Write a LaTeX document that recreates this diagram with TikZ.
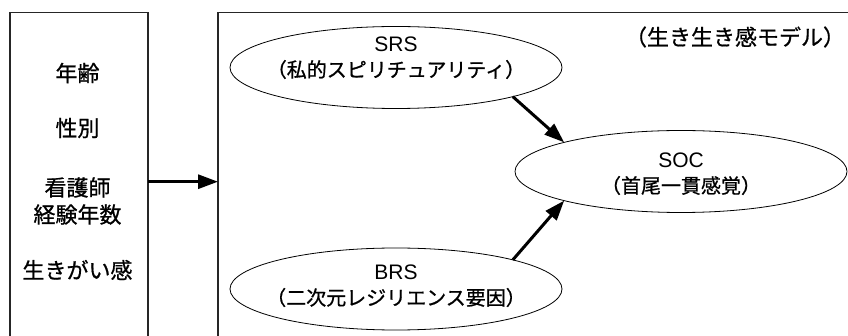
\documentclass[tikz,border=0pt]{standalone}
\usepackage{fontspec}
\setmainfont{Noto Sans CJK JP}[RawFeature={embolden=0.8}]
\newfontfamily\latinfont{Liberation Sans}
\usetikzlibrary{arrows.meta,shapes.geometric}
\tikzset{
  boxline/.style={draw=black!85, line width=1.3pt, inner sep=0pt, outer sep=0pt, anchor=north west},
  oval/.style={ellipse, draw=black, line width=0.8pt, inner sep=0pt, outer sep=0pt, minimum width=332pt, minimum height=82pt},
  ovaltext/.style={align=center, inner sep=0pt, font=\fontsize{20}{25.5}\selectfont},
  sidetext/.style={align=center, inner sep=0pt, font=\fontsize{22}{27}\selectfont},
  bigarrow/.style={line width=3pt, -{Triangle[length=20pt, width=14pt]}, shorten >=0pt}
}
\begin{document}
\begin{tikzpicture}[x=1pt, y=-1pt]
\useasboundingbox (0,0) rectangle (848,336);
\clip (0,0) rectangle (848,336);
\fill[white] (0,0) rectangle (848,336);
% boxes
\node[boxline, minimum width=138pt, minimum height=338pt] (lbox) at (10,12.7) {};
\node[boxline, minimum width=652pt, minimum height=338pt] (rbox) at (218,12.7) {};
% left labels
\node[sidetext] (age) at (77.5,73) {年齢};
\node[sidetext] (sex) at (77.5,128) {性別};
\node[sidetext] (exp) at (77.5,201) {看護師\\経験年数};
\node[sidetext] (ikigai) at (77.5,270) {生きがい感};
% title
\node[sidetext] (title) at (735,37) {（生き生き感モデル）};
% ellipses
\node[oval] (srs) at (396,67.5) {};
\node[ovaltext] (srst) at (396,58) {{\latinfont\fontsize{21}{25.5}\selectfont SRS}\\（私的スピリチュアリティ）};
\node[oval] (soc) at (681,171.5) {};
\node[ovaltext] (soct) at (681,174) {{\latinfont\fontsize{21}{25.5}\selectfont SOC}\\（首尾一貫感覚）};
\node[oval] (brs) at (396,289) {};
\node[ovaltext] (brst) at (396,286) {{\latinfont\fontsize{21}{25.5}\selectfont BRS}\\（二次元レジリエンス要因）};
% arrows
\draw[bigarrow] (lbox.east) -- (rbox.west);
\draw[bigarrow] (srs.-14) -- (soc.166);
\draw[bigarrow] (brs.14) -- (soc.194);
\end{tikzpicture}
\end{document}
